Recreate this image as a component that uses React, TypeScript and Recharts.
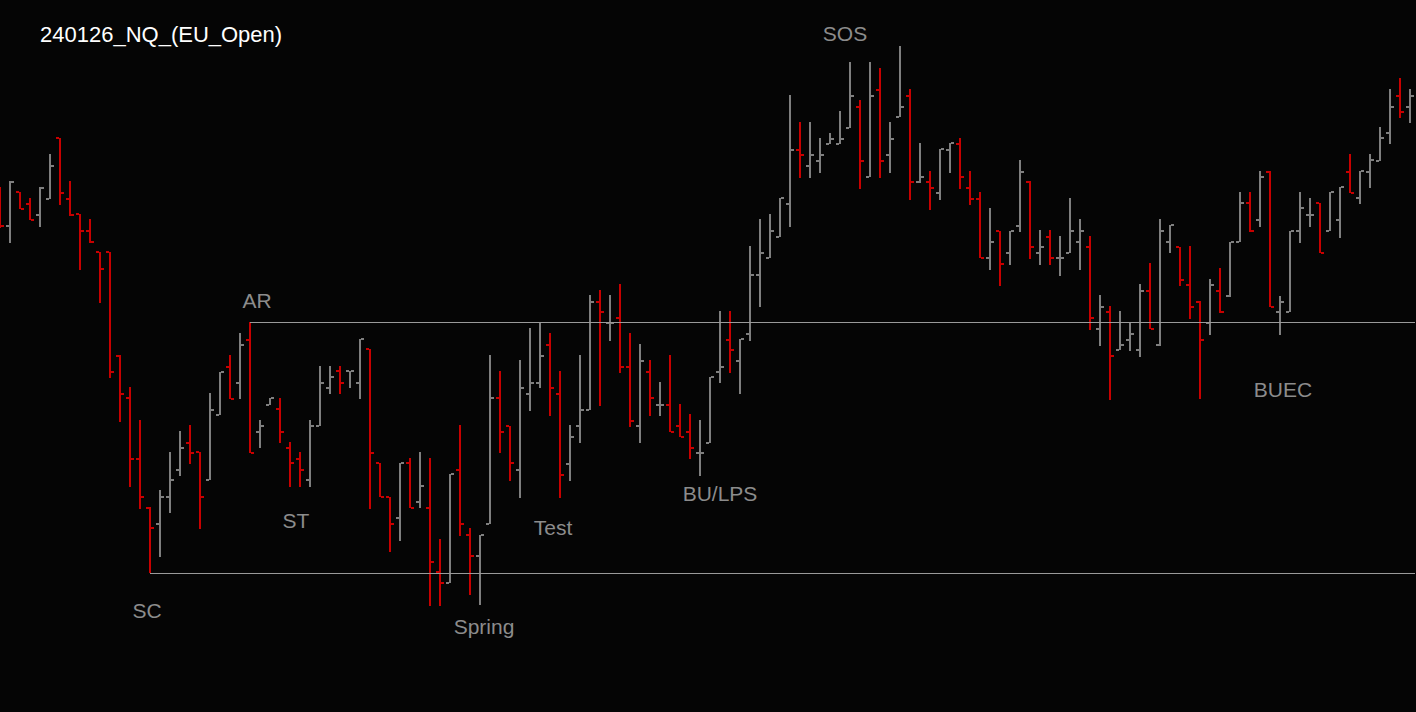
import React from "react"
import { ComposedChart, Bar, XAxis, YAxis, ReferenceLine, ReferenceDot } from "recharts"

// OHLC of the EU open session, one bar per slot
const opens = [
  17552.5, 17543.5, 17552, 17549, 17546.25, 17550.25, 17565.5, 17550.25, 17546.5, 17542.25,
  17537, 17537, 17511, 17500.5, 17485.25, 17473, 17469, 17475.75, 17482.5, 17489.25,
  17487, 17480, 17496.25, 17508.25, 17504.25, 17515, 17492, 17498.75, 17497.75, 17488,
  17485.25, 17480, 17493.5, 17503, 17507.25, 17507.25, 17504.25, 17512.75, 17484.25, 17475.75,
  17470.5, 17484.25, 17474.5, 17473, 17457, 17454.25, 17482.5, 17466.25, 17461, 17469,
  17500.5, 17493.5, 17482.5, 17501.5, 17504.25, 17513.75, 17501.5, 17484, 17493.5, 17497.5,
  17524.5, 17519.25, 17520.5, 17508.25, 17493.5, 17507, 17498.75, 17498.75, 17493.5, 17492,
  17486.75, 17489.25, 17507, 17515, 17509.75, 17516.5, 17531.25, 17535.5, 17540.75, 17549,
  17562.5, 17558.5, 17559.75, 17564, 17564, 17568, 17573.25, 17555.75, 17577.5, 17561.25,
  17570.75, 17576, 17554.5, 17554.5, 17551.75, 17562.5, 17564, 17553, 17550.25, 17535.5,
  17542.25, 17536.75, 17543.5, 17554.5, 17536.75, 17540.75, 17535.5, 17536.75, 17539.5, 17538.25,
  17517.75, 17522, 17512.5, 17515, 17512.5, 17527.25, 17513.75, 17539.5, 17538.25, 17528.75,
  17524.5, 17519.25, 17527.25, 17526, 17539.5, 17549.25, 17545, 17557, 17522, 17522,
  17542.25, 17546.25, 17549.25, 17542.25, 17545, 17557, 17550.5, 17557, 17559.75, 17566.75,
  17576, 17573.25,
]
const highs = [
  17553.25, 17554.75, 17552, 17550.5, 17553.25, 17561.5, 17565.5, 17554.75, 17546.5, 17545.25,
  17537, 17537, 17511.25, 17503.25, 17495, 17473.25, 17477.5, 17487, 17492.25, 17493.75,
  17487, 17501.75, 17507, 17511.25, 17516.75, 17519.5, 17495, 17500.5, 17500.5, 17489.5,
  17487, 17495, 17508.5, 17508.5, 17508.5, 17507.25, 17515.25, 17512.75, 17484.25, 17475.75,
  17484.25, 17485.5, 17487, 17485.5, 17465.25, 17481.5, 17493.75, 17468, 17466.25, 17511.25,
  17507.25, 17493.5, 17510, 17518, 17519.25, 17516.75, 17507.25, 17493.75, 17511.25, 17526.25,
  17527.5, 17526.25, 17529, 17516.75, 17514, 17510, 17504.5, 17511.25, 17499, 17496.5,
  17495, 17505.75, 17522.25, 17522.25, 17515.25, 17538.5, 17545.25, 17546.5, 17550.5, 17576.25,
  17569.5, 17569.5, 17565.5, 17566.75, 17572.25, 17584.5, 17575, 17584.5, 17583, 17569.5,
  17588.5, 17577.75, 17564.25, 17557.25, 17562.75, 17564.25, 17565.5, 17557.25, 17552, 17548,
  17542.25, 17542.25, 17560, 17554.75, 17542.5, 17542.5, 17541, 17550.5, 17545.25, 17541,
  17526.25, 17523.5, 17522.25, 17519.5, 17529, 17534.25, 17545.25, 17543.75, 17538.25, 17538.5,
  17524.75, 17530.25, 17533, 17539.5, 17552, 17552, 17557.25, 17557.25, 17526, 17542.25,
  17552, 17550.5, 17549.25, 17552, 17553.25, 17561.5, 17557.25, 17561.5, 17568.25, 17577.75,
  17580.5, 17577.75,
]
const lows = [
  17543, 17539.25, 17547.75, 17545, 17543.25, 17550.25, 17548.75, 17546, 17532.5, 17539.25,
  17524.25, 17505.5, 17494.5, 17478.25, 17472.75, 17456.75, 17460.75, 17471.75, 17481, 17484,
  17467.75, 17480, 17496.25, 17500.25, 17500.25, 17486.75, 17488, 17498.75, 17489.25, 17478.25,
  17478.25, 17478.25, 17493.5, 17501.5, 17501.5, 17503, 17500.25, 17472.75, 17475.75, 17462,
  17464.75, 17473, 17473, 17448.5, 17448.5, 17454.25, 17466, 17451.25, 17448.75, 17469,
  17486.75, 17479.75, 17475.5, 17497.25, 17503, 17496, 17475.5, 17479.75, 17489.25, 17497.5,
  17498.5, 17514.75, 17506.75, 17493.25, 17489.25, 17496, 17496, 17492, 17490.75, 17485.25,
  17481, 17489.25, 17504.25, 17506.75, 17501.5, 17514.75, 17523.25, 17535.5, 17540.75, 17543.25,
  17555.5, 17555.5, 17556.75, 17564, 17564, 17568, 17552.75, 17555.75, 17555.5, 17556.75,
  17570.75, 17550, 17554.25, 17547.5, 17550, 17556.75, 17552.75, 17548.75, 17535.5, 17532.5,
  17528.5, 17533.75, 17542, 17535.25, 17533.75, 17533.75, 17531, 17536.75, 17532.5, 17517.5,
  17513.5, 17500, 17512.5, 17512.25, 17510.75, 17517.75, 17513.5, 17536.75, 17528.5, 17520.25,
  17500.25, 17516.25, 17521.75, 17525.75, 17539.5, 17542, 17543.25, 17523.25, 17516.25, 17522,
  17539.25, 17543.25, 17536.75, 17542.25, 17540.5, 17551.75, 17549, 17553, 17559.75, 17564,
  17570.5, 17569.25,
]
const closes = [
  17543.5, 17554.5, 17547.75, 17545, 17553, 17558.5, 17551.75, 17546.25, 17542.25, 17539.5,
  17532.75, 17507, 17501.5, 17485.25, 17475.75, 17468, 17475.75, 17480, 17488, 17486.75,
  17475.75, 17497.5, 17507, 17500.25, 17513.75, 17486.75, 17493.5, 17500.5, 17492, 17484.25,
  17482.5, 17493.5, 17504.25, 17505.75, 17504.25, 17507.25, 17515.25, 17486.75, 17475.75, 17469,
  17484.25, 17473, 17478.5, 17459.5, 17454.25, 17481.5, 17469, 17461, 17466.25, 17500.5,
  17492, 17484.25, 17503, 17504.25, 17511, 17503, 17481.25, 17490.75, 17497.5, 17524.5,
  17522, 17519.25, 17508.25, 17494.75, 17509.75, 17500.5, 17498.75, 17492, 17490.75, 17488,
  17486.75, 17505.75, 17508.25, 17512.5, 17515.25, 17531.25, 17536.75, 17542.25, 17550.5, 17562.5,
  17561.25, 17561.25, 17561.25, 17565.25, 17565.25, 17576, 17559.75, 17576, 17559.75, 17565.25,
  17573.25, 17554.5, 17555.75, 17553, 17562.75, 17564.25, 17555.75, 17550.25, 17535.5, 17539.5,
  17534, 17542.25, 17557, 17538.25, 17538.25, 17535.5, 17535.5, 17542.25, 17542.25, 17520.5,
  17523.25, 17511, 17513.75, 17516.5, 17527.25, 17517.75, 17542.25, 17543.75, 17530, 17523.25,
  17515, 17528.75, 17522, 17539.5, 17549.25, 17542.25, 17555.75, 17523.25, 17524.5, 17542.25,
  17548, 17546.25, 17536.75, 17552, 17553.25, 17551.75, 17557.25, 17560, 17565.5, 17573.25,
  17572, 17576,
]

// Wyckoff levels: automatic rally high and selling climax low
const arIndex = 25
const scIndex = 15

// annotation text, anchored at a bar and a price
const labelNames = ["SC", "AR", "ST", "Spring", "Test", "BU/LPS", "SOS", "BUEC"]
const labelBars = [15, 25, 30, 48, 55, 72, 85, 128]
const labelPrices = [17447.5, 17525, 17470, 17443.5, 17468.25, 17476.75, 17591.75, 17502.75]
const labelShift = [-3, 7, -4, 4, 3, 0, -5, 3]

const data = opens.map((o, i) => ({
  i,
  open: o,
  high: highs[i],
  low: lows[i],
  close: closes[i],
}))

const RED = "#c80000"
const GRAY = "#7f7f7f"
const FONT = "'Liberation Sans', Arial, sans-serif"

const OhlcShape = (props: any) => {
  const { x, y, width, height, payload } = props
  if (x == null || y == null) return null
  const top = Math.min(y, y + height)
  const bottom = Math.max(y, y + height)
  const k = (bottom - top) / (payload.high - payload.low || 1)
  const yOf = (v: number) => top + (payload.high - v) * k
  const cx = x + width / 2
  const color = payload.close < payload.open ? RED : GRAY
  const yo = yOf(payload.open)
  const yc = yOf(payload.close)
  return (
    <g shapeRendering="crispEdges">
      <rect x={cx - 1} y={top} width={2} height={Math.max(bottom - top, 1)} fill={color} />
      <rect x={cx - 4} y={yo - 1} width={3} height={2} fill={color} />
      <rect x={cx + 1} y={yc - 1} width={3} height={2} fill={color} />
    </g>
  )
}

// level line runs on past the last bar to the edge of the pane
const LevelLine = (p: any) => (
  <line
    x1={p.x1}
    y1={p.y1}
    x2={p.x2 + 20}
    y2={p.y2}
    stroke="#9a9a9a"
    strokeWidth={1}
    shapeRendering="crispEdges"
  />
)

const App: React.FC = () => {
  const arLevel = highs[arIndex]
  const scLevel = lows[scIndex]

  return (
    <div
      style={{
        position: "fixed",
        left: 0,
        top: 0,
        width: 1416,
        height: 712,
        background: "#050505",
        overflow: "hidden",
      }}
    >
      <ComposedChart
        width={1420}
        height={712}
        data={data}
        margin={{ top: 0, right: 0, bottom: 0, left: 0 }}
        style={{ position: "absolute", left: -5, top: 0 }}
      >
        <XAxis dataKey="i" type="category" hide />
        <YAxis type="number" domain={[17422, 17600]} allowDataOverflow hide />
        <ReferenceLine
          segment={[
            { x: arIndex, y: arLevel },
            { x: data.length - 1, y: arLevel },
          ]}
          shape={LevelLine}
          ifOverflow="visible"
        />
        <ReferenceLine
          segment={[
            { x: scIndex, y: scLevel },
            { x: data.length - 1, y: scLevel },
          ]}
          shape={LevelLine}
          ifOverflow="visible"
        />
        <Bar
          dataKey={(d: any) => [d.low, d.high]}
          shape={OhlcShape}
          isAnimationActive={false}
        />
        {labelNames.map((name, n) => (
          <ReferenceDot
            key={name}
            x={labelBars[n]}
            y={labelPrices[n]}
            r={1}
            fill="none"
            stroke="none"
            label={({ viewBox }: any) => (
              <text
                x={viewBox.x + viewBox.width / 2 + labelShift[n]}
                y={viewBox.y + viewBox.height / 2}
                textAnchor="middle"
                dominantBaseline="central"
                fill="#8c8c8c"
                fontSize={21}
                fontFamily={FONT}
              >
                {name}
              </text>
            )}
          />
        ))}
      </ComposedChart>
      <svg width={1416} height={60} style={{ position: "absolute", left: 0, top: 0 }}>
        <text x={40} y={42} fill="#ffffff" fontSize={22} fontFamily={FONT}>
          240126_NQ_(EU_Open)
        </text>
      </svg>
    </div>
  )
}

export default App
